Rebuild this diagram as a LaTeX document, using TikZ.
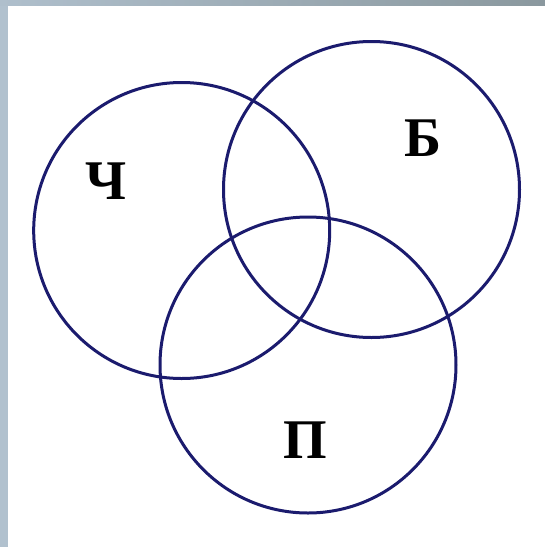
\documentclass[tikz,border=0pt]{standalone}
\usepackage{fontspec}
\setmainfont{Liberation Serif}
\usepackage{tikz}
\usetikzlibrary{positioning}

\definecolor{venncol}{RGB}{27,27,110}
\definecolor{frameleft}{RGB}{177,193,206}
\definecolor{frametopA}{RGB}{175,191,204}
\definecolor{frametopB}{RGB}{138,152,158}

\begin{document}
\begin{tikzpicture}[
    x=1pt, y=-1pt,
    venn/.style={circle, draw=venncol, line width=3pt, minimum size=296pt, inner sep=0pt},
    setlbl/.style={inner sep=0pt, font=\fontsize{56}{60}\selectfont\bfseries}
]
\useasboundingbox (0,0) rectangle (545,547);

% Frame
\fill[white] (0,0) rectangle (545,547);
\fill[frameleft] (0,0) rectangle (8,547);
\shade[left color=frametopA, right color=frametopB] (0,0) rectangle (545,5);

% Sets
\node[venn] (setch) at (181.7,230.5) {};
\node[venn] (setb) at (371.5,189.5) {};
\node[venn] (setp) at (308,365) {};

% Labels
\node[setlbl] (lblch) at (106.5,181.5) {Ч};
\node[setlbl] (lblb) at (423,138.5) {Б};
\node[setlbl] (lblp) at (305,440) {П};

\end{tikzpicture}
\end{document}
